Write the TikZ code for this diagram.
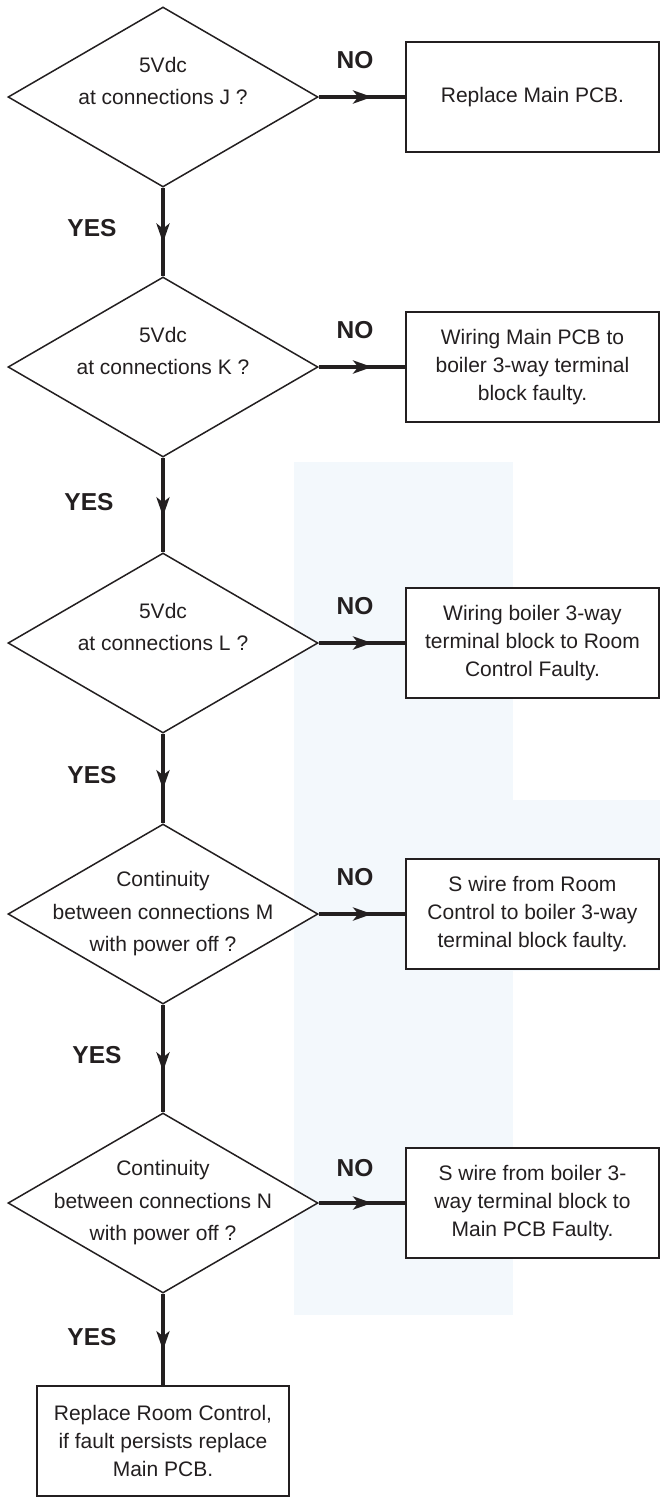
\documentclass[tikz,border=0pt]{standalone}
\usepackage{fontspec}
\setmainfont{Liberation Sans}
\usetikzlibrary{shapes.geometric,arrows.meta,decorations.markings}
\definecolor{ink}{HTML}{231F20}
\definecolor{panelblue}{HTML}{F3F8FC}
\begin{document}
\begin{tikzpicture}[x=1pt,y=-1pt,
  dia/.style={diamond, draw=ink, fill=white, line width=1.5pt, minimum width=310pt, minimum height=180pt, inner sep=0pt, aspect=1.72},
  dtext/.style={font=\fontsize{21}{32.5}\selectfont, text=ink, align=center, inner sep=0pt},
  res/.style={rectangle, draw=ink, fill=white, line width=2.2pt, minimum width=253pt, minimum height=110pt, inner sep=0pt, align=center, font=\fontsize{21}{28}\selectfont, text=ink},
  lab/.style={font=\bfseries\fontsize{24.5}{28}\selectfont, text=ink, inner sep=0pt},
  conn/.style={draw=ink, line width=4.6pt, postaction={decorate, decoration={markings, mark=at position 0.62 with {\arrow[ink]{Stealth[length=19pt,width=13pt,inset=5pt]}}}}}
]
\useasboundingbox (0,0) rectangle (660,1497);
\fill[white] (0,0) rectangle (660,1497);
% faint background panels
\fill[panelblue] (294,462) rectangle (513,1315);
\fill[panelblue] (513,800) rectangle (660,971);

% decisions
\node[dia] (J) at (163,97) {};
\node[dia] (K) at (163,367) {};
\node[dia] (L) at (163,643) {};
\node[dia] (M) at (163,914) {};
\node[dia] (N) at (163,1203) {};

\node[dtext] (Jt) at (163,81) {5Vdc\\at connections J ?};
\node[dtext] (Kt) at (163,351) {5Vdc\\at connections K ?};
\node[dtext] (Lt) at (163,627) {5Vdc\\at connections L ?};
\node[dtext] (Mt) at (163,914) {Continuity\\between connections M\\with power off ?};
\node[dtext] (Nt) at (163,1203) {Continuity\\between connections N\\with power off ?};

% results
\node[res] (Jb) at (532.5,97) {Replace Main PCB.};
\node[res] (Kb) at (532.5,367) {Wiring Main PCB to\\boiler 3-way terminal\\block faulty.};
\node[res] (Lb) at (532.5,643) {Wiring boiler 3-way\\terminal block to Room\\Control Faulty.};
\node[res] (Mb) at (532.5,914) {S wire from Room\\Control to boiler 3-way\\terminal block faulty.};
\node[res] (Nb) at (532.5,1203) {S wire from boiler 3-\\way terminal block to\\Main PCB Faulty.};
\node[res, minimum width=252pt] (F) at (163,1441) {Replace Room Control,\\if fault persists replace\\Main PCB.};

% labels
\node[lab] (no1) at (355,60) {NO};
\node[lab] (no2) at (355,330) {NO};
\node[lab] (no3) at (355,606) {NO};
\node[lab] (no4) at (355,877) {NO};
\node[lab] (no5) at (355,1168) {NO};
\node[lab] (yes1) at (92,228) {YES};
\node[lab] (yes2) at (89,502) {YES};
\node[lab] (yes3) at (92,775) {YES};
\node[lab] (yes4) at (97,1055) {YES};
\node[lab] (yes5) at (92,1337) {YES};

% connectors
\draw[conn] (J.east) -- (Jb.west);
\draw[conn] (K.east) -- (Kb.west);
\draw[conn] (L.east) -- (Lb.west);
\draw[conn] (M.east) -- (Mb.west);
\draw[conn] (N.east) -- (Nb.west);
\draw[conn] (J.south) -- (K.north);
\draw[conn] (K.south) -- (L.north);
\draw[conn] (L.south) -- (M.north);
\draw[conn] (M.south) -- (N.north);
\draw[conn] (N.south) -- (F.north);
\end{tikzpicture}
\end{document}
